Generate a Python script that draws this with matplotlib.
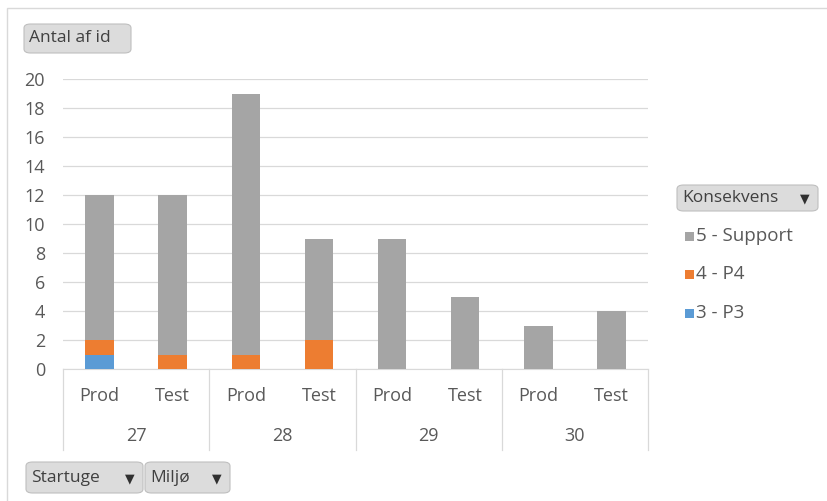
import matplotlib
matplotlib.use("Agg")
import matplotlib.pyplot as plt
from matplotlib.patches import FancyBboxPatch, Rectangle
from matplotlib.transforms import blended_transform_factory

weeks = ["27", "28", "29", "30"]
envs = ["Prod", "Test"]
series_names = ["3 - P3", "4 - P4", "5 - Support"]
p3 = [1, 0, 0, 0, 0, 0, 0, 0]
p4 = [1, 1, 1, 2, 0, 0, 0, 0]
support = [10, 11, 18, 7, 9, 5, 3, 4]
colors = ["#5B9BD5", "#ED7D31", "#A5A5A5"]
yticks = [0, 2, 4, 6, 8, 10, 12, 14, 16, 18, 20]

W, H = 827, 501
plt.rcParams['font.family'] = ['Open Sans', 'DejaVu Sans']
fig = plt.figure(figsize=(W / 100, H / 100), dpi=100)
txt = "#595959"

def fx(px): return px / W
def fy(py): return 1 - py / H

# outer chart frame
fig.patches.append(Rectangle((fx(7), fy(520)), fx(900) - fx(7), fy(8) - fy(520),
                             transform=fig.transFigure, fill=False,
                             edgecolor="#D9D9D9", lw=1.0))

ax = fig.add_axes([fx(63), fy(369), fx(648) - fx(63), fy(79) - fy(369)])
x = list(range(len(support)))
bw = 0.39
bottom = [0] * len(x)
for vals, c, name in zip([p3, p4, support], colors, series_names):
    ax.bar(x, vals, bw, bottom=bottom, color=c, label=name, zorder=3)
    bottom = [b + v for b, v in zip(bottom, vals)]

ax.set_xlim(-0.5, len(x) - 0.5)
ax.set_ylim(0, 20)
ax.set_yticks(yticks)
ax.set_yticklabels([str(t) for t in yticks], fontsize=13, color=txt)
ax.tick_params(axis='y', length=0, pad=13)
ax.set_xticks([])
ax.grid(axis='y', color="#D9D9D9", lw=0.9, zorder=0)
for s in ["top", "right", "left"]:
    ax.spines[s].set_visible(False)
ax.spines["bottom"].set_color("#D9D9D9")

tr = blended_transform_factory(ax.transData, ax.transAxes)
for i in x:
    ax.text(i, -0.092, envs[i % 2], transform=tr, ha='center', va='center',
            fontsize=13, color=txt)
for g, w in enumerate(weeks):
    ax.text(2 * g + 0.5, -0.232, w, transform=tr, ha='center', va='center',
            fontsize=13, color=txt)
for g in range(len(weeks) + 1):
    ax.plot([2 * g - 0.5, 2 * g - 0.5], [0, -0.279], transform=tr,
            color="#D9D9D9", lw=0.9, clip_on=False)

def button(x0, y0, x1, y1, label, arrow=False):
    p = FancyBboxPatch((fx(x0), fy(y1)), fx(x1) - fx(x0), fy(y0) - fy(y1),
                       boxstyle="round,pad=0,rounding_size=0.008",
                       transform=fig.transFigure, facecolor="#DCDCDC",
                       edgecolor="#BFBFBF", lw=0.8)
    fig.patches.append(p)
    fig.text(fx(x0 + 5), fy((y0 + y1) / 2), label, ha='left', va='center',
             fontsize=12.5, color="#404040")
    if arrow:
        fig.text(fx(x1 - 13), fy((y0 + y1) / 2 + 1), "\u25BC", ha='center',
                 va='center', fontsize=9, color="#303030",
                 family=['DejaVu Sans'])

button(24, 24, 131, 53, "Antal af id")
button(677, 185, 818, 211, "Konsekvens", arrow=True)
button(26, 462, 143, 493, "Startuge", arrow=True)
button(145, 462, 230, 493, "Miljø", arrow=True)

# legend
leg_items = [("5 - Support", colors[2], 236), ("4 - P4", colors[1], 274),
             ("3 - P3", colors[0], 313)]
for name, c, py in leg_items:
    fig.patches.append(Rectangle((fx(685), fy(py + 5)), fx(9), fy(0) - fy(9),
                                 transform=fig.transFigure, facecolor=c,
                                 edgecolor='none'))
    fig.text(fx(696), fy(py), name, ha='left', va='center', fontsize=13.5,
             color=txt)

fig.savefig("out.png", dpi=100)
